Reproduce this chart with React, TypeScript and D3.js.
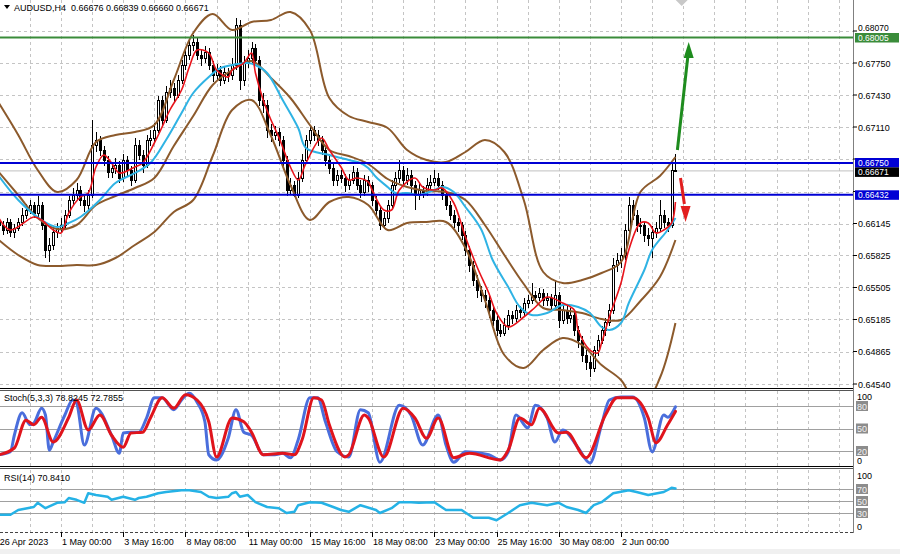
import React from "react"
import * as d3 from "d3"

const FONT = "'Liberation Sans', Arial, sans-serif"
const AXIS_X = 853

// AUDUSD H4 candles: open, high, low, close (in pips, price * 10000)
const candles: number[][] = [
  [6618, 6622, 6608, 6613], [6613, 6617, 6603, 6608], [6608, 6620, 6604, 6616], [6616, 6619, 6601, 6606],
  [6606, 6614, 6600, 6610], [6610, 6620, 6607, 6616], [6616, 6630, 6612, 6623], [6623, 6634, 6619, 6628],
  [6628, 6638, 6624, 6633], [6633, 6636, 6620, 6625], [6625, 6642, 6621, 6633], [6633, 6636, 6608, 6613],
  [6613, 6616, 6580, 6588], [6588, 6600, 6576, 6593], [6593, 6610, 6588, 6606], [6606, 6615, 6600, 6610],
  [6610, 6620, 6605, 6613], [6613, 6628, 6609, 6623], [6623, 6642, 6620, 6638], [6638, 6650, 6633, 6643],
  [6643, 6655, 6638, 6648], [6648, 6652, 6632, 6638], [6638, 6642, 6626, 6633], [6633, 6648, 6628, 6643],
  [6643, 6718, 6640, 6693], [6693, 6706, 6686, 6698], [6698, 6702, 6682, 6688], [6688, 6692, 6672, 6678],
  [6678, 6682, 6660, 6666], [6666, 6676, 6660, 6670], [6670, 6680, 6664, 6673], [6673, 6677, 6655, 6660],
  [6660, 6684, 6656, 6678], [6678, 6682, 6662, 6668], [6668, 6672, 6652, 6658], [6658, 6700, 6655, 6693],
  [6693, 6698, 6678, 6683], [6683, 6688, 6665, 6673], [6673, 6703, 6670, 6698], [6698, 6708, 6692, 6700],
  [6700, 6715, 6696, 6708], [6708, 6742, 6705, 6738], [6738, 6742, 6712, 6718], [6718, 6752, 6715, 6746],
  [6746, 6758, 6740, 6750], [6750, 6755, 6736, 6743], [6743, 6763, 6740, 6758], [6758, 6778, 6754, 6773],
  [6773, 6790, 6768, 6783], [6783, 6798, 6778, 6793], [6793, 6803, 6787, 6796], [6796, 6800, 6778, 6783],
  [6783, 6788, 6772, 6780], [6780, 6792, 6775, 6786], [6786, 6790, 6768, 6773], [6773, 6777, 6756, 6763],
  [6763, 6774, 6758, 6768], [6768, 6772, 6752, 6758], [6758, 6772, 6754, 6766], [6766, 6770, 6756, 6763],
  [6763, 6780, 6758, 6773], [6773, 6820, 6768, 6813], [6813, 6818, 6748, 6758], [6758, 6782, 6752, 6776],
  [6776, 6788, 6770, 6780], [6780, 6796, 6775, 6790], [6790, 6794, 6772, 6778], [6778, 6782, 6732, 6738],
  [6738, 6745, 6725, 6733], [6733, 6738, 6700, 6708], [6708, 6714, 6696, 6703], [6703, 6712, 6698, 6706],
  [6706, 6710, 6692, 6698], [6698, 6702, 6672, 6678], [6678, 6682, 6642, 6648], [6648, 6660, 6643, 6653],
  [6653, 6657, 6641, 6643], [6643, 6666, 6640, 6660], [6660, 6684, 6656, 6678], [6678, 6703, 6674, 6698],
  [6698, 6712, 6694, 6708], [6708, 6712, 6697, 6703], [6703, 6708, 6692, 6698], [6698, 6702, 6683, 6688],
  [6688, 6692, 6672, 6678], [6678, 6683, 6664, 6670], [6670, 6674, 6652, 6658], [6658, 6668, 6652, 6663],
  [6663, 6668, 6655, 6660], [6660, 6664, 6646, 6653], [6653, 6664, 6648, 6658], [6658, 6672, 6654, 6666],
  [6666, 6670, 6648, 6653], [6653, 6658, 6640, 6646], [6646, 6663, 6642, 6658], [6658, 6662, 6646, 6653],
  [6653, 6656, 6632, 6638], [6638, 6642, 6622, 6628], [6628, 6632, 6608, 6613], [6613, 6626, 6609, 6620],
  [6620, 6638, 6615, 6633], [6633, 6658, 6630, 6653], [6653, 6666, 6648, 6660], [6660, 6678, 6655, 6668],
  [6668, 6672, 6652, 6658], [6658, 6670, 6653, 6663], [6663, 6668, 6645, 6653], [6653, 6657, 6628, 6643],
  [6643, 6655, 6638, 6648], [6648, 6652, 6640, 6646], [6646, 6660, 6642, 6653], [6653, 6663, 6648, 6656],
  [6656, 6668, 6652, 6660], [6660, 6665, 6648, 6653], [6653, 6657, 6638, 6643], [6643, 6647, 6628, 6633],
  [6633, 6637, 6618, 6623], [6623, 6628, 6610, 6616], [6616, 6620, 6606, 6613], [6613, 6616, 6598, 6603],
  [6603, 6607, 6582, 6588], [6588, 6592, 6566, 6573], [6573, 6577, 6552, 6558], [6558, 6563, 6540, 6548],
  [6548, 6552, 6536, 6543], [6543, 6548, 6530, 6538], [6538, 6542, 6520, 6528], [6528, 6532, 6512, 6518],
  [6518, 6522, 6502, 6508], [6508, 6514, 6501, 6505], [6505, 6520, 6502, 6513], [6513, 6528, 6508, 6523],
  [6523, 6527, 6514, 6520], [6520, 6533, 6516, 6528], [6528, 6532, 6520, 6526], [6526, 6540, 6522, 6535],
  [6535, 6543, 6530, 6538], [6538, 6555, 6534, 6543], [6543, 6547, 6536, 6541], [6541, 6550, 6537, 6545],
  [6545, 6549, 6532, 6538], [6538, 6545, 6532, 6540], [6540, 6544, 6526, 6533], [6533, 6558, 6528, 6543],
  [6543, 6546, 6510, 6518], [6518, 6533, 6514, 6528], [6528, 6532, 6514, 6520], [6520, 6530, 6515, 6523],
  [6523, 6526, 6502, 6508], [6508, 6512, 6490, 6498], [6498, 6502, 6476, 6483], [6483, 6488, 6468, 6476],
  [6476, 6482, 6461, 6470], [6470, 6492, 6466, 6488], [6488, 6503, 6482, 6498], [6498, 6512, 6494, 6508],
  [6508, 6520, 6502, 6516], [6516, 6534, 6512, 6528], [6528, 6580, 6524, 6573], [6573, 6585, 6566, 6578],
  [6578, 6590, 6570, 6583], [6583, 6614, 6578, 6608], [6608, 6641, 6604, 6633], [6633, 6638, 6618, 6623],
  [6623, 6628, 6606, 6613], [6613, 6620, 6604, 6613], [6613, 6616, 6596, 6603], [6603, 6610, 6592, 6600],
  [6600, 6612, 6580, 6606], [6606, 6616, 6600, 6610], [6610, 6638, 6606, 6623], [6623, 6628, 6610, 6616],
  [6616, 6620, 6606, 6613], [6613, 6675, 6610, 6667.6], [6667.6, 6683.9, 6666.0, 6667.1],
]

// Bollinger bands sampled every 5 bars (pips)
const bandBars = [0, 5, 10, 15, 20, 25, 30, 35, 40, 45, 50, 55, 60, 65, 70, 75, 80, 85, 90, 95, 100, 105, 110, 115, 120, 125, 130, 135, 140, 145, 150, 155, 160, 165, 170, 174]
const bbUpper = [6735, 6703, 6668, 6646, 6658, 6696, 6703, 6706, 6713, 6758, 6805, 6824, 6808, 6816, 6818, 6826, 6808, 6740, 6722, 6716, 6710, 6688, 6678, 6676, 6686, 6698, 6686, 6638, 6566, 6555, 6558, 6565, 6576, 6646, 6662, 6681]
const bbMiddle = [6666, 6643, 6620, 6609, 6613, 6633, 6642, 6650, 6660, 6692, 6722, 6753, 6768, 6777, 6760, 6740, 6713, 6688, 6682, 6674, 6659, 6651, 6647, 6646, 6638, 6613, 6583, 6554, 6530, 6528, 6525, 6519, 6518, 6537, 6561, 6598]
const bbLower = [6598, 6583, 6573, 6572, 6573, 6573, 6580, 6593, 6606, 6626, 6638, 6682, 6728, 6738, 6702, 6653, 6618, 6636, 6641, 6633, 6608, 6615, 6616, 6616, 6590, 6538, 6483, 6470, 6488, 6500, 6493, 6473, 6458, 6428, 6460, 6515]

// fast MA (red) and slow MA (cyan): [bar, pips]
const fastMa: number[][] = [
  [0, 6620], [3, 6608], [9, 6621], [11, 6618], [14, 6608], [16, 6605], [18, 6625], [21, 6641], [23, 6645], [25, 6671],
  [27, 6683], [29, 6675], [31, 6665], [35, 6671], [37, 6675], [40, 6695], [42, 6711], [44, 6728], [47, 6748], [49, 6771],
  [51, 6788], [54, 6785], [56, 6768], [59, 6761], [60, 6768], [63, 6775], [65, 6785], [66, 6765], [68, 6738], [70, 6718],
  [72, 6701], [75, 6671], [77, 6658], [79, 6675], [83, 6700], [85, 6688], [88, 6671], [90, 6658], [92, 6660], [95, 6656],
  [96, 6648], [99, 6628], [101, 6628], [103, 6648], [107, 6660], [109, 6651], [112, 6648], [114, 6650], [117, 6635], [120, 6601],
  [123, 6571], [126, 6545], [128, 6525], [131, 6511], [135, 6521], [138, 6531], [141, 6541], [145, 6535], [148, 6528], [149, 6508],
  [152, 6488], [154, 6485], [155, 6495], [157, 6521], [160, 6555], [162, 6588], [165, 6615], [167, 6615], [169, 6605], [171, 6608],
  [173, 6615], [174, 6636],
]
const slowMa: number[][] = [
  [0, 6662], [5, 6638], [11, 6618], [15, 6611], [18, 6615], [21, 6621], [26, 6638], [30, 6655], [35, 6665], [39, 6675],
  [43, 6698], [47, 6725], [50, 6745], [54, 6761], [57, 6770], [60, 6773], [64, 6775], [66, 6773], [69, 6765], [73, 6738],
  [77, 6710], [79, 6690], [85, 6683], [90, 6678], [93, 6675], [95, 6670], [97, 6661], [100, 6651], [102, 6645], [105, 6645],
  [108, 6643], [112, 6648], [114, 6651], [117, 6646], [120, 6631], [124, 6609], [127, 6578], [131, 6551], [134, 6531], [137, 6523],
  [141, 6525], [145, 6533], [149, 6531], [152, 6525], [155, 6511], [157, 6508], [160, 6515], [162, 6535], [166, 6568], [168, 6588],
  [172, 6608], [174, 6620],
]

// Stochastic(5,3,3): [bar, value]
const stochMain: number[][] = [
  [0, 15], [3, 19], [4, 41], [6, 71], [8, 55], [9, 57], [11, 77], [12, 68], [13, 21], [14, 32], [17, 68], [19, 88], [20, 84],
  [22, 28], [25, 77], [29, 41], [31, 17], [32, 44], [34, 45], [36, 45], [38, 64], [40, 91], [42, 91], [45, 75], [47, 88],
  [49, 97], [51, 85], [53, 59], [54, 15], [56, 8], [59, 37], [61, 75], [63, 45], [65, 41], [68, 15], [71, 15], [73, 17],
  [75, 11], [77, 35], [80, 91], [82, 91], [84, 59], [87, 19], [90, 12], [93, 75], [95, 71], [98, 5], [103, 81], [106, 68],
  [109, 28], [113, 68], [115, 28], [117, 5], [120, 19], [126, 15], [129, 8], [131, 19], [133, 68], [136, 51], [138, 81],
  [141, 64], [143, 32], [145, 48], [149, 24], [152, 4], [155, 55], [157, 88], [160, 92], [163, 92], [166, 64], [168, 19],
  [171, 68], [172, 65], [174, 78.82],
]
const stochSignal: number[][] = [
  [0, 15], [4, 24], [7, 61], [9, 55], [11, 65], [14, 32], [18, 65], [20, 88], [23, 48], [26, 68], [29, 41], [32, 25],
  [34, 44], [37, 45], [39, 64], [42, 91], [45, 77], [48, 95], [51, 88], [54, 59], [56, 12], [60, 64], [63, 59], [65, 45],
  [68, 15], [73, 17], [76, 15], [78, 35], [81, 91], [83, 88], [85, 55], [89, 12], [90, 15], [94, 68], [95, 64], [99, 12],
  [104, 77], [107, 64], [110, 37], [113, 64], [117, 11], [121, 17], [129, 8], [131, 21], [134, 64], [137, 55], [139, 77],
  [144, 44], [146, 45], [151, 11], [156, 68], [159, 91], [163, 91], [167, 64], [169, 31], [172, 55], [174, 72.79],
]

// RSI(14): [bar, value]
const rsi: number[][] = [
  [0, 27], [3, 27], [5, 35], [9, 40], [10, 47], [12, 38], [15, 47], [17, 48], [18, 55], [20, 52], [22, 47], [23, 63],
  [25, 60], [28, 57], [29, 52], [32, 57], [35, 52], [36, 55], [38, 57], [41, 63], [43, 65], [47, 68], [49, 68], [52, 65],
  [54, 57], [56, 55], [59, 57], [60, 63], [61, 65], [62, 57], [64, 60], [66, 48], [69, 40], [72, 38], [74, 30], [76, 32],
  [77, 43], [80, 48], [83, 47], [86, 40], [88, 35], [90, 32], [93, 43], [97, 35], [98, 30], [101, 38], [103, 48], [106, 48],
  [108, 47], [112, 48], [115, 35], [119, 35], [122, 22], [126, 22], [128, 18], [131, 30], [134, 43], [137, 47], [141, 43],
  [144, 47], [146, 40], [149, 35], [151, 30], [153, 43], [155, 48], [158, 63], [162, 68], [164, 65], [167, 60], [171, 65],
  [173, 72], [174, 70.84],
]

const priceTicks = [0.6807, 0.6775, 0.6743, 0.6711, 0.6679, 0.66465, 0.66145, 0.65825, 0.65505, 0.65185, 0.64865, 0.6454]
// tick labels hidden behind the level boxes on the price axis
const hiddenTickLabels = [0.6679, 0.66465]
const timeTickBars = [16, 32, 48, 64, 80, 96, 112, 128, 144, 160]
const timeTickLabels = ["1 May 00:00", "3 May 16:00", "8 May 08:00", "11 May 00:00", "15 May 16:00", "18 May 08:00", "23 May 00:00", "25 May 16:00", "30 May 08:00", "2 Jun 00:00"]

const levels = [
  { price: 0.68005, color: "#3a8c3a", line: true, nudge: 0 },
  { price: 0.6675, color: "#0000d4", line: true, nudge: -0.5 },
  { price: 0.66671, color: "#000000", line: false, nudge: 1 },
  { price: 0.66432, color: "#0000d4", line: true, nudge: 0 },
]

export default function App() {
  const x = d3.scaleLinear().domain([16, 160]).range([61, 621])
  const y = d3.scaleLinear().domain([0.6454, 0.68005]).range([384, 37.5])
  const ys = d3.scaleLinear().domain([0, 100]).range([466, 391])
  const yr = d3.scaleLinear().domain([0, 100]).range([531, 471])
  const py = (p: number) => y(p / 10000)

  const priceLine = d3.line<number[]>().x((d) => x(d[0])).y((d) => py(d[1])).curve(d3.curveCatmullRom)
  const band = (vals: number[]) => priceLine(bandBars.map((b, i) => [b, vals[i]])) || ""
  const stochLine = d3.line<number[]>().x((d) => x(d[0])).y((d) => ys(d[1])).curve(d3.curveMonotoneX)
  const rsiLine = d3.line<number[]>().x((d) => x(d[0])).y((d) => yr(d[1]))

  const gridBars = d3.range(8, 220, 8).filter((b) => x(b) < AXIS_X)
  const grey = "#c4c4c4"

  return (
    <svg width={900} height={554} style={{ position: "absolute", left: 0, top: 0, background: "#fff" }} fontFamily={FONT}>
      <defs>
        <clipPath id="main">
          <rect x={0} y={0} width={AXIS_X} height={388} />
        </clipPath>
        <clipPath id="sub">
          <rect x={0} y={391} width={AXIS_X} height={140} />
        </clipPath>
      </defs>
      <rect x={0} y={549} width={900} height={5} fill="#f0f0f0" />

      {/* grid */}
      <g stroke={grey} strokeDasharray="3,3" shapeRendering="crispEdges">
        {priceTicks.map((t) => (
          <line key={t} x1={0} x2={AXIS_X} y1={Math.round(y(t)) + 0.5} y2={Math.round(y(t)) + 0.5} />
        ))}
        {gridBars.map((b) => (
          <g key={b}>
            <line x1={Math.round(x(b)) + 0.5} x2={Math.round(x(b)) + 0.5} y1={0} y2={388} />
            <line x1={Math.round(x(b)) + 0.5} x2={Math.round(x(b)) + 0.5} y1={391} y2={466} />
            <line x1={Math.round(x(b)) + 0.5} x2={Math.round(x(b)) + 0.5} y1={470} y2={532} />
          </g>
        ))}
      </g>

      {/* main chart */}
      <g clipPath="url(#main)">
        <line x1={0} x2={AXIS_X} y1={py(6667.1)} y2={py(6667.1)} stroke="#c0c0c0" strokeWidth={1} />
        {candles.map((c, i) => {
          const [o, h, l, cl] = c
          const cx = Math.round(x(i))
          const top = Math.round(py(Math.max(o, cl)))
          const bot = Math.round(py(Math.min(o, cl)))
          const bull = cl >= o
          return (
            <g key={i} shapeRendering="crispEdges">
              <line x1={cx + 0.5} x2={cx + 0.5} y1={py(h)} y2={py(l)} stroke="#000" />
              <rect x={cx - 0.5} y={top + 0.5} width={2} height={Math.max(bot - top, 0.5)} fill={bull ? "#fff" : "#000"} stroke="#000" />
            </g>
          )
        })}
        <g fill="none" stroke="#8c5a2c" strokeWidth={2}>
          <path d={band(bbUpper)} />
          <path d={band(bbMiddle)} />
          <path d={band(bbLower)} />
        </g>
        <path d={priceLine(slowMa) || ""} fill="none" stroke="#2fb3e4" strokeWidth={2} />
        <path d={priceLine(fastMa) || ""} fill="none" stroke="#e8141c" strokeWidth={1.6} />
        {levels
          .filter((lv) => lv.line)
          .map((lv) => (
            <line key={lv.price} x1={0} x2={AXIS_X} y1={y(lv.price)} y2={y(lv.price)} stroke={lv.color} strokeWidth={2} />
          ))}
        {/* arrows */}
        <line x1={x(174.5)} y1={py(6688)} x2={x(177.2)} y2={py(6782)} stroke="#1e8c1e" strokeWidth={3} />
        <polygon
          points={`${x(177.4)},${py(6796)} ${x(177.4) - 5},${py(6780)} ${x(177.4) + 5},${py(6780)}`}
          fill="#1e8c1e"
        />
        <line x1={x(175.3)} y1={py(6660)} x2={x(176.3)} y2={py(6634)} stroke="#e21e1e" strokeWidth={3} />
        <polygon
          points={`${x(176.6)},${py(6616)} ${x(176.6) - 5},${py(6632)} ${x(176.6) + 5},${py(6632)}`}
          fill="#e21e1e"
        />
        <polygon points={`${x(175.6) - 6},0 ${x(175.6) + 6},0 ${x(175.6)},6`} fill="#c8c8c8" />
      </g>

      {/* header */}
      <polygon points="4,5 10,5 7,9" fill="#000" />
      <text x={14} y={11} fontSize={9} fill="#000">
        AUDUSD,H4&#160;&#160;0.66676 0.66839 0.66660 0.66671
      </text>

      {/* indicator levels */}
      <g stroke="#a0a0a0" shapeRendering="crispEdges">
        {[80, 50, 20].map((v) => (
          <line key={v} x1={0} x2={AXIS_X} y1={Math.round(ys(v)) + 0.5} y2={Math.round(ys(v)) + 0.5} />
        ))}
        {[70, 50, 30].map((v) => (
          <line key={v} x1={0} x2={AXIS_X} y1={Math.round(yr(v)) + 0.5} y2={Math.round(yr(v)) + 0.5} />
        ))}
      </g>
      <g clipPath="url(#sub)" fill="none" strokeLinejoin="round" strokeLinecap="round">
        <path d={stochLine(stochMain) || ""} stroke="#4a6edc" strokeWidth={3} />
        <path d={stochLine(stochSignal) || ""} stroke="#e0141c" strokeWidth={3} />
        <path d={rsiLine(rsi) || ""} stroke="#25b2e6" strokeWidth={2.5} />
      </g>
      <text x={4} y={401} fontSize={9} fill="#000">
        Stoch(5,3,3) 78.8245 72.7855
      </text>
      <text x={4} y={481} fontSize={9} fill="#000">
        RSI(14) 70.8410
      </text>

      {/* panel borders */}
      <g shapeRendering="crispEdges">
        <line x1={0} x2={AXIS_X + 1} y1={388.5} y2={388.5} stroke="#000" strokeWidth={1} />
        <line x1={0} x2={AXIS_X + 1} y1={390.5} y2={390.5} stroke="#555" strokeWidth={1} />
        <line x1={0} x2={AXIS_X + 1} y1={466.5} y2={466.5} stroke="#000" strokeWidth={1} />
        <line x1={0} x2={AXIS_X + 1} y1={468.5} y2={468.5} stroke="#555" strokeWidth={1} />
        <line x1={0} x2={AXIS_X + 1} y1={532.5} y2={532.5} stroke="#444" strokeDasharray="3,2" />
        <line x1={AXIS_X + 0.5} x2={AXIS_X + 0.5} y1={0} y2={533} stroke="#808080" strokeWidth={1} />
      </g>

      {/* price axis */}
      <g fontSize={9} fill="#000">
        {priceTicks.map((t) => (
          <g key={t}>
            <line x1={AXIS_X} x2={AXIS_X + 4} y1={y(t)} y2={y(t)} stroke="#000" />
            {!hiddenTickLabels.includes(t) && (
              <text x={858} y={t === 0.6807 ? 30.5 : y(t) + 3.5} fontSize={t === 0.6807 ? 8.5 : 9}>
                {t.toFixed(5)}
              </text>
            )}
          </g>
        ))}
        {levels.map((lv) => {
          const cy = y(lv.price) + lv.nudge
          return (
            <g key={lv.price}>
              <rect x={855} y={cy - 4.5} width={44} height={9.5} fill={lv.color} />
              <text x={858} y={cy + 3} fontSize={8.5} fill="#fff">
                {lv.price.toFixed(5)}
              </text>
            </g>
          )
        })}
      </g>

      {/* indicator axes */}
      <g fontSize={9} fill="#000">
        <text x={857} y={ys(100) + 9}>100</text>
        <text x={857} y={ys(0) - 2}>0</text>
        {[80, 50, 20].map((v) => (
          <g key={v}>
            <rect x={856} y={ys(v) - 5} width={12} height={10} fill="#8c8c8c" />
            <text x={857} y={ys(v) + 3.5} fill="#f2f2f2">{v}</text>
          </g>
        ))}
        <text x={857} y={yr(100) + 8}>100</text>
        <text x={857} y={yr(0) - 1}>0</text>
        {[70, 50, 30].map((v) => (
          <g key={v}>
            <rect x={856} y={yr(v) - 5} width={12} height={10} fill="#8c8c8c" />
            <text x={857} y={yr(v) + 3.5} fill="#f2f2f2">{v}</text>
          </g>
        ))}
      </g>

      {/* time axis */}
      <g fontSize={9} fill="#000">
        <text x={x(0) + 1} y={545}>26 Apr 2023</text>
        {timeTickBars.map((b, i) => (
          <g key={b}>
            <line x1={Math.round(x(b)) + 0.5} x2={Math.round(x(b)) + 0.5} y1={532} y2={537} stroke="#000" />
            <text x={x(b) + 1} y={545}>
              {timeTickLabels[i]}
            </text>
          </g>
        ))}
      </g>
    </svg>
  )
}
